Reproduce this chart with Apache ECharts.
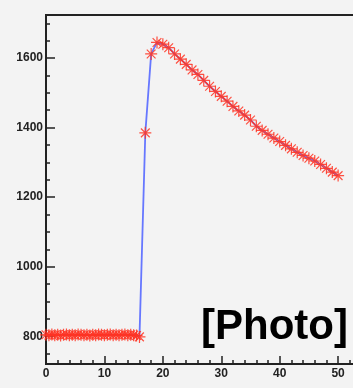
<!DOCTYPE html>
<html>
<head>
<meta charset="utf-8">
<script src="https://cdn.jsdelivr.net/npm/echarts@6/dist/echarts.min.js"></script>
<style>
  html, body { margin: 0; padding: 0; background: #f3f3f3; }
  #chart { width: 353px; height: 388px; }
</style>
</head>
<body>
<div id="chart"></div>
<script>
// x positions of the measurements
const timeFlat = [0, 0.5, 1, 1.5, 2, 2.5, 3, 3.5, 4, 4.5, 5, 5.5, 6, 6.5, 7, 7.5, 8,
  8.5, 9, 9.5, 10, 10.5, 11, 11.5, 12, 12.5, 13, 13.5, 14, 14.5, 15, 15.5, 16];
const valueFlat = [804, 803, 805, 803, 804, 802, 804, 805, 803, 804, 803, 805, 804, 803, 804, 802,
  804, 803, 805, 804, 803, 804, 805, 803, 804, 803, 804, 805, 803, 804, 803, 802, 798];
const timeRise = [17, 18, 19, 20, 21, 22, 23, 24, 25, 26, 27, 28, 29, 30, 31, 32, 33, 34,
  35, 36, 37, 38, 39, 40, 41, 42, 43, 44, 45, 46, 47, 48, 49, 50];
const valueRise = [1385, 1612, 1645, 1640, 1630, 1612, 1597, 1582, 1566, 1553, 1536, 1519,
  1504, 1490, 1476, 1461, 1448, 1436, 1422, 1404, 1392, 1381, 1370, 1360, 1349, 1339,
  1329, 1320, 1312, 1304, 1294, 1283, 1272, 1262];

const xLabels = [0, 10, 20, 30, 40, 50];
const xMinor = [2, 4, 6, 8, 12, 14, 16, 18, 22, 24, 26, 28, 32, 34, 36, 38, 42, 44, 46, 48, 52, 54];
const yLabels = [800, 1000, 1200, 1400, 1600];
const yMinor = [750, 850, 900, 950, 1050, 1100, 1150, 1250, 1300, 1350, 1450, 1500, 1550, 1650, 1700];

const points = timeFlat.map((t, i) => [t, valueFlat[i]])
  .concat(timeRise.map((t, i) => [t, valueRise[i]]));

// asterisk marker
const star = 'path://M0 9 L20 9 L20 11 L0 11 Z M9 0 L11 0 L11 20 L9 20 Z ' +
  'M2 3.4 L3.4 2 L18 16.6 L16.6 18 Z M16.6 2 L18 3.4 L3.4 18 L2 16.6 Z';

const chart = echarts.init(document.getElementById('chart'), null, { renderer: 'canvas' });

const labelFont = { color: '#222', fontWeight: 'bold', fontSize: 12, fontFamily: 'Liberation Sans' };

chart.setOption({
  backgroundColor: '#f3f3f3',
  animation: false,
  grid: {
    left: 46, top: 15, right: -12, bottom: 24,
    outerBoundsMode: 'none',
    containLabel: false,
    show: true, borderColor: '#222', borderWidth: 2, backgroundColor: 'transparent'
  },
  xAxis: [{
    type: 'value', min: 0, max: 54.6, position: 'bottom',
    axisLine: { show: true, onZero: false, lineStyle: { color: '#222', width: 2 } },
    axisTick: { show: true, inside: true, length: 8, customValues: xLabels, lineStyle: { color: '#222', width: 1.5 } },
    axisLabel: { customValues: xLabels, margin: 4, formatter: v => String(v), ...labelFont },
    splitLine: { show: false }
  }, {
    type: 'value', min: 0, max: 54.6, position: 'bottom',
    axisLine: { show: false },
    axisTick: { show: true, inside: true, length: 4, customValues: xMinor, lineStyle: { color: '#222', width: 1.5 } },
    axisLabel: { show: false },
    splitLine: { show: false }
  }],
  yAxis: [{
    type: 'value', min: 720, max: 1724, position: 'left',
    axisLine: { show: true, onZero: false, lineStyle: { color: '#222', width: 2 } },
    axisTick: { show: true, inside: true, length: 9, customValues: yLabels, lineStyle: { color: '#222', width: 1.5 } },
    axisLabel: { customValues: yLabels, margin: 3, formatter: v => String(v), ...labelFont },
    splitLine: { show: false }
  }, {
    type: 'value', min: 720, max: 1724, position: 'left',
    axisLine: { show: false },
    axisTick: { show: true, inside: true, length: 4, customValues: yMinor, lineStyle: { color: '#222', width: 1.5 } },
    axisLabel: { show: false },
    splitLine: { show: false }
  }],
  series: [{
    type: 'line',
    data: points,
    xAxisIndex: 0,
    yAxisIndex: 0,
    symbol: star,
    symbolSize: 12,
    showAllSymbol: true,
    lineStyle: { color: '#6677ff', width: 1.8 },
    itemStyle: { color: '#ff3322', opacity: 0.85 }
  }],
  graphic: [{
    type: 'text',
    right: 5,
    top: 306,
    style: {
      text: '[Photo]',
      font: 'bold 42px "Liberation Sans"',
      fill: '#000'
    }
  }]
});
</script>
</body>
</html>
